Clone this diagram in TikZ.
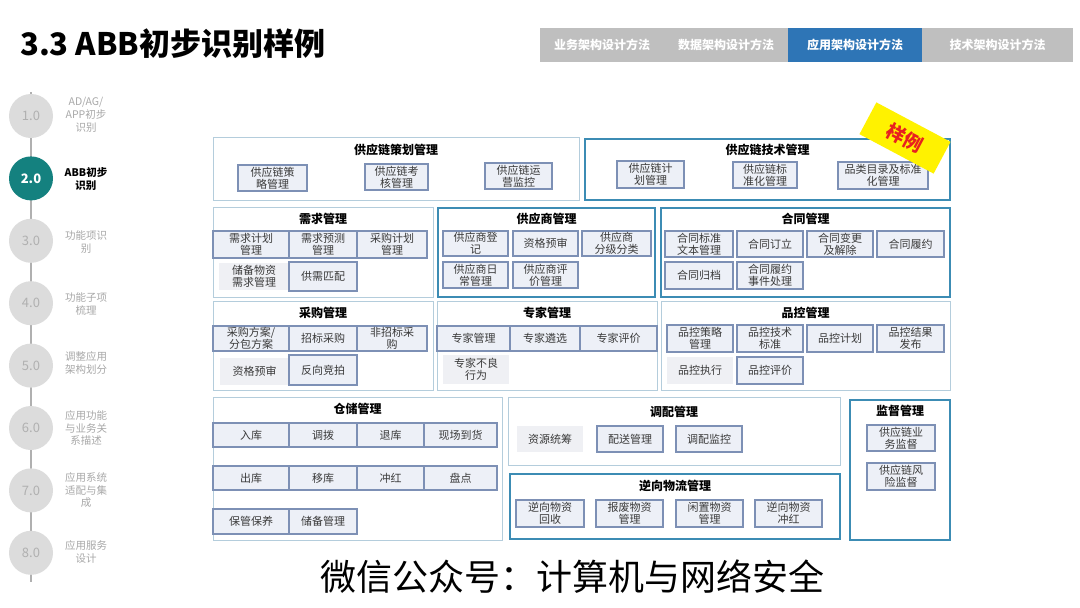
\documentclass[tikz,border=0pt]{standalone}
\usepackage{fontspec}
\setmainfont{Noto Sans CJK SC}
\definecolor{thinB}{HTML}{B4CDDC}
\definecolor{thickB}{HTML}{3C8CB4}
\definecolor{boxF}{HTML}{EDF0F7}
\definecolor{boxB}{HTML}{7D90B5}
\definecolor{plainF}{HTML}{EFF0F4}
\definecolor{tabG}{HTML}{BFBFBF}
\definecolor{tabB}{HTML}{2E75B6}
\definecolor{tealC}{HTML}{14817F}
\definecolor{circG}{HTML}{DCDCDC}
\definecolor{numG}{HTML}{B0B0B0}
\definecolor{labG}{HTML}{A8A8A8}
\definecolor{txtC}{HTML}{3A3A3A}
\definecolor{stampY}{HTML}{FFF200}
\definecolor{stampR}{HTML}{E8201F}
\newcommand\bx[7][box]{\node[#1,minimum width={(#5-#3)*1pt},minimum height={(#6-#4)*1pt}] (#2) at ({(#3+#5)/2},{(#4+#6)/2}) {#7};}
\newcommand\pnl[8][thinp]{\node[#1,minimum width={(#5-#3)*1pt},minimum height={(#6-#4)*1pt}] (#2) at ({(#3+#5)/2},{(#4+#6)/2}) {};
\node[ttl] (#2-t) at ({(#3+#5)/2},#7) {#8};}
\tikzset{
  thinp/.style={draw=thinB,line width=1pt,fill=white,inner sep=0pt,outer sep=0pt},
  thickp/.style={draw=thickB,line width=1.8pt,fill=white,inner sep=0pt,outer sep=0pt},
  ttl/.style={font=\fontsize{12}{13}\selectfont\bfseries,text=black,inner sep=0pt},
  box/.style={draw=boxB,line width=1.1pt,fill=boxF,inner sep=0pt,outer sep=0pt,align=center,text=txtC,font=\fontsize{11}{11.8}\selectfont},
  plain/.style={fill=plainF,inner sep=0pt,outer sep=0pt,align=center,text=txtC,font=\fontsize{11}{11.8}\selectfont},
  tab/.style={fill=tabG,text=white,inner sep=0pt,outer sep=0pt,minimum height=34pt,font=\fontsize{12}{14}\selectfont\bfseries},
  circ/.style={circle,fill=circG,minimum size=44pt,inner sep=0pt,text=numG,font=\fontsize{13}{14}\selectfont},
  lab/.style={align=center,text=labG,font=\fontsize{10.5}{12.8}\selectfont,inner sep=0pt},
}
\begin{document}
\begin{tikzpicture}[x=1pt,y=-1pt]
\useasboundingbox (0,0) rectangle (1080,608);
\fill[white] (0,0) rectangle (1080,608);
% title
\node[anchor=west,inner sep=0pt,font=\fontsize{31}{34}\selectfont\bfseries] (title) at (20,44) {3.3 ABB初步识别样例};
% tabs
\node[tab,minimum width=124pt] (tab1) at (602,45) {业务架构设计方法};
\node[tab,minimum width=124pt] (tab2) at (726,45) {数据架构设计方法};
\node[tab,fill=tabB,minimum width=134pt] (tab3) at (855,45) {应用架构设计方法};
\node[tab,minimum width=151pt] (tab4) at (997.5,45) {技术架构设计方法};
% sidebar
\coordinate (ltop) at (31,92);
\coordinate (lbot) at (31,582);
\draw[numG,line width=2pt] (ltop) -- (lbot);
\node[circ] (c1) at (31,116) {1.0};
\node[circ,fill=tealC,text=white,font=\fontsize{13}{14}\selectfont\bfseries] (c2) at (31,178.4) {2.0};
\node[circ] (c3) at (31,240.8) {3.0};
\node[circ] (c4) at (31,303.2) {4.0};
\node[circ] (c5) at (31,365.6) {5.0};
\node[circ] (c6) at (31,428) {6.0};
\node[circ] (c7) at (31,490.4) {7.0};
\node[circ] (c8) at (31,552.8) {8.0};
\node[lab] (l1) at (86,115) {AD/AG/\\APP初步\\识别};
\node[lab,text=black,font=\fontsize{10.5}{12.8}\selectfont\bfseries] (l2) at (86,179) {ABB初步\\识别};
\node[lab] (l3) at (86,242) {功能项识\\别};
\node[lab] (l4) at (86,304) {功能子项\\梳理};
\node[lab] (l5) at (86,363) {调整应用\\架构划分};
\node[lab] (l6) at (86,428) {应用功能\\与业务关\\系描述};
\node[lab] (l7) at (86,490) {应用系统\\适配与集\\成};
\node[lab] (l8) at (86,552) {应用服务\\设计};
% panels
\pnl{p1}{213}{137}{579}{200}{150}{供应链策划管理}
\pnl[thickp]{p2}{585}{139}{950}{200}{150}{供应链技术管理}
\pnl{p3}{213}{207}{433}{297}{219}{需求管理}
\pnl[thickp]{p4}{438}{208}{655}{297}{219}{供应商管理}
\pnl[thickp]{p5}{661}{208}{950}{297}{219}{合同管理}
\pnl{p6}{213}{301}{433}{390}{313}{采购管理}
\pnl{p7}{437}{301}{657}{390}{313}{专家管理}
\pnl{p8}{661}{301}{950}{390}{313}{品控管理}
\pnl{p9}{213}{397}{502}{540}{409}{仓储管理}
\pnl{p10}{508}{397}{840}{465}{412}{调配管理}
\pnl[thickp]{p11}{510}{474}{840}{539}{486}{逆向物流管理}
\pnl[thickp]{p12}{850}{400}{950}{540}{411}{监督管理}
% p1
\bx{b1a}{238}{165}{307}{191}{供应链策\\略管理}
\bx{b1b}{365}{164}{428}{190}{供应链考\\核管理}
\bx{b1c}{485}{163}{552}{189}{供应链运\\营监控}
% p2
\bx{b2a}{617}{161}{684}{188}{供应链计\\划管理}
\bx{b2b}{733}{162}{797}{188}{供应链标\\准化管理}
\bx{b2c}{838}{162}{928}{189}{品类目录及标准\\化管理}
% p3
\bx{b3a}{213}{231}{289}{258}{需求计划\\管理}
\bx{b3b}{289}{231}{357}{258}{需求预测\\管理}
\bx{b3c}{357}{231}{427}{258}{采购计划\\管理}
\bx[plain]{b3d}{219}{263}{289}{290}{储备物资\\需求管理}
\bx{b3e}{289}{262}{357}{291}{供需匹配}
% p4
\bx{b4a}{443}{231}{508}{256}{供应商登\\记}
\bx{b4b}{513}{231}{578}{256}{资格预审}
\bx{b4c}{582}{231}{651}{256}{供应商\\分级分类}
\bx{b4d}{443}{262}{508}{288}{供应商日\\常管理}
\bx{b4e}{513}{262}{578}{288}{供应商评\\价管理}
% p5
\bx{b5a}{665}{231}{733}{257}{合同标准\\文本管理}
\bx{b5b}{737}{231}{803}{257}{合同订立}
\bx{b5c}{807}{231}{873}{257}{合同变更\\及解除}
\bx{b5d}{877}{231}{944}{257}{合同履约}
\bx{b5e}{665}{262}{733}{289}{合同归档}
\bx{b5f}{737}{262}{803}{289}{合同履约\\事件处理}
% p6
\bx{b6a}{213}{326}{289}{351}{采购方案/\\分包方案}
\bx{b6b}{289}{326}{357}{351}{招标采购}
\bx{b6c}{357}{326}{427}{351}{非招标采\\购}
\bx[plain]{b6d}{220}{358}{289}{385}{资格预审}
\bx{b6e}{289}{355}{357}{385}{反向竞拍}
% p7
\bx{b7a}{437}{326}{510}{351}{专家管理}
\bx{b7b}{510}{326}{580}{351}{专家遴选}
\bx{b7c}{580}{326}{657}{351}{专家评价}
\bx[plain]{b7d}{443}{355}{509}{384}{专家不良\\行为}
% p8
\bx{b8a}{667}{325}{733}{352}{品控策略\\管理}
\bx{b8b}{737}{325}{803}{352}{品控技术\\标准}
\bx{b8c}{807}{325}{873}{352}{品控计划}
\bx{b8d}{877}{325}{944}{352}{品控结果\\发布}
\bx[plain]{b8e}{667}{357}{733}{384}{品控执行}
\bx{b8f}{737}{357}{803}{384}{品控评价}
% p9
\bx{b9a}{213}{423}{289}{447}{入库}
\bx{b9b}{289}{423}{357}{447}{调拨}
\bx{b9c}{357}{423}{424}{447}{退库}
\bx{b9d}{424}{423}{497}{447}{现场到货}
\bx{b9e}{213}{466}{289}{490}{出库}
\bx{b9f}{289}{466}{357}{490}{移库}
\bx{b9g}{357}{466}{424}{490}{冲红}
\bx{b9h}{424}{466}{497}{490}{盘点}
\bx{b9i}{213}{509}{289}{534}{保管保养}
\bx{b9j}{289}{509}{357}{534}{储备管理}
% p10
\bx[plain]{b10a}{517}{426}{583}{452}{资源统筹}
\bx{b10b}{597}{426}{663}{452}{配送管理}
\bx{b10c}{676}{426}{742}{452}{调配监控}
% p11
\bx{b11a}{516}{500}{584}{527}{逆向物资\\回收}
\bx{b11b}{596}{500}{663}{527}{报废物资\\管理}
\bx{b11c}{676}{500}{743}{527}{闲置物资\\管理}
\bx{b11d}{755}{500}{822}{527}{逆向物资\\冲红}
% p12
\bx{b12a}{867}{425}{935}{451}{供应链业\\务监督}
\bx{b12b}{867}{463}{935}{490}{供应链风\\险监督}
% stamp
\node[fill=stampY,rotate=-28,minimum width=84pt,minimum height=36pt,inner sep=0pt,text=stampR,font=\fontsize{19}{21}\selectfont\bfseries] (stamp) at (905,138) {样例};
% footer
\node[inner sep=0pt,font=\fontsize{36}{40}\selectfont] (foot) at (572,577) {微信公众号：计算机与网络安全};
\end{tikzpicture}
\end{document}
